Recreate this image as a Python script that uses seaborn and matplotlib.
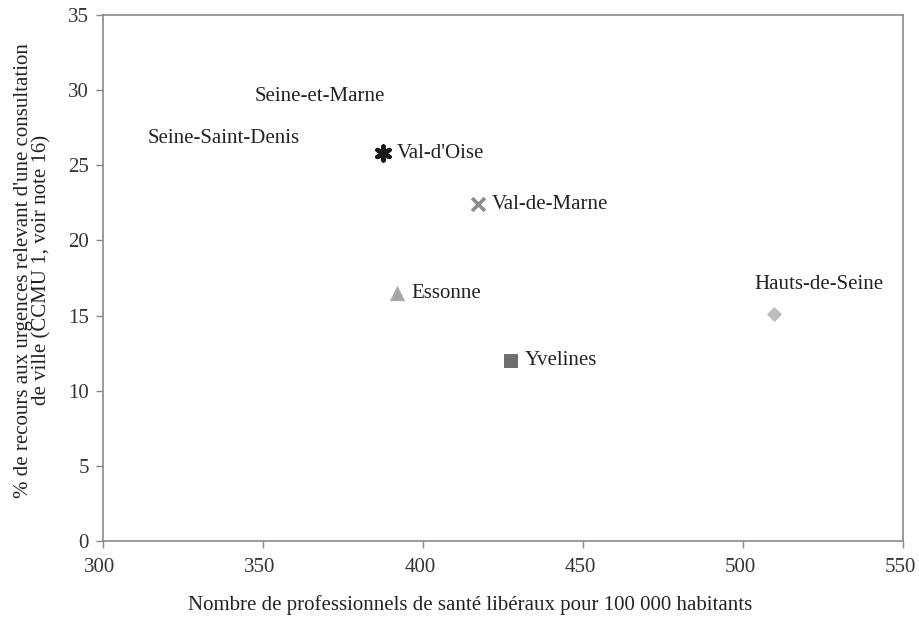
import matplotlib
matplotlib.use("Agg")
import matplotlib.pyplot as plt
import matplotlib.transforms as mtransforms
import seaborn as sns
import pandas as pd

# Data
departements = ["Val-d'Oise", "Val-de-Marne", "Essonne", "Yvelines", "Hauts-de-Seine",
                "Seine-et-Marne", "Seine-Saint-Denis"]
professionnels = [387.5, 417.2, 391.9, 427.5, 509.7, 367.8, 337.8]
recours = [25.8, 22.4, 16.5, 12.0, 15.1, 29.6, 26.8]
x_ticks = [300, 350, 400, 450, 500, 550]
y_ticks = [0, 5, 10, 15, 20, 25, 30, 35]

df = pd.DataFrame({"dep": departements, "x": professionnels, "y": recours})

sns.set_theme(style="white")
plt.rcParams["font.family"] = ["Liberation Serif", "DejaVu Serif"]

FS = 15
fig = plt.figure(figsize=(9.2, 6.2), dpi=100)
ax = fig.add_axes([103 / 920, 1 - 541 / 620, 800 / 920, 526 / 620])

styles = {
    "Val-d'Oise":     dict(marker=(6, 2, 0), color="#1a1a1a", s=100, lw=3.2, off=(10, 0), ha="left", va="center"),
    "Val-de-Marne":   dict(marker="x", color="#8c8c8c", s=85, lw=2.6, off=(10, 0), ha="left", va="center"),
    "Essonne":        dict(marker="^", color="#a6a6a6", s=120, lw=0, off=(10, 0), ha="left", va="center"),
    "Yvelines":       dict(marker="s", color="#6e6e6e", s=90, lw=0, off=(10, 0), ha="left", va="center"),
    "Hauts-de-Seine": dict(marker="D", color="#bdbdbd", s=60, lw=0, off=(32, 21), ha="center", va="center"),
    "Seine-et-Marne": dict(marker=None, color="none", s=0, lw=0, off=(0, 0), ha="center", va="center"),
    "Seine-Saint-Denis": dict(marker=None, color="none", s=0, lw=0, off=(0, 0), ha="center", va="center"),
}

for _, row in df.iterrows():
    st = styles[row["dep"]]
    if st["marker"] is not None:
        sub = df[df["dep"] == row["dep"]]
        sns.scatterplot(data=sub, x="x", y="y", ax=ax, marker=st["marker"],
                        color=st["color"], s=st["s"], linewidth=st["lw"],
                        edgecolor=st["color"], legend=False, clip_on=False, zorder=3)
    ax.annotate(row["dep"], (row["x"], row["y"]), xytext=st["off"], textcoords="offset points",
                ha=st["ha"], va=st["va"], fontsize=FS, color="#222222")

ax.set_xlim(300, 550)
ax.set_ylim(0, 35)
ax.set_xticks(x_ticks)
ax.set_yticks(y_ticks)
ax.tick_params(axis="both", which="both", direction="out", length=5, width=1,
               color="#888888", labelsize=FS, labelcolor="#333333", bottom=True, left=True)
ax.tick_params(axis="x", pad=7)
ax.tick_params(axis="y", pad=5)
shift = mtransforms.ScaledTranslation(-3 / 100, 0, fig.dpi_scale_trans)
for lbl in ax.get_xticklabels():
    lbl.set_transform(lbl.get_transform() + shift)
for sp in ax.spines.values():
    sp.set_color("#8a8a8a")
    sp.set_linewidth(1.2)
ax.set_xlabel("Nombre de professionnels de santé libéraux pour 100 000 habitants",
              fontsize=FS, color="#222222")
ax.xaxis.set_label_coords(0.459, -0.102)
ax.set_ylabel("% de recours aux urgences relevant d'une consultation\nde ville (CCMU 1, voir note 16)",
              fontsize=FS, color="#222222", linespacing=1.0)
ax.yaxis.set_label_coords(-0.064, 0.515)
ax.grid(False)

fig.savefig("out.png", dpi=100)
